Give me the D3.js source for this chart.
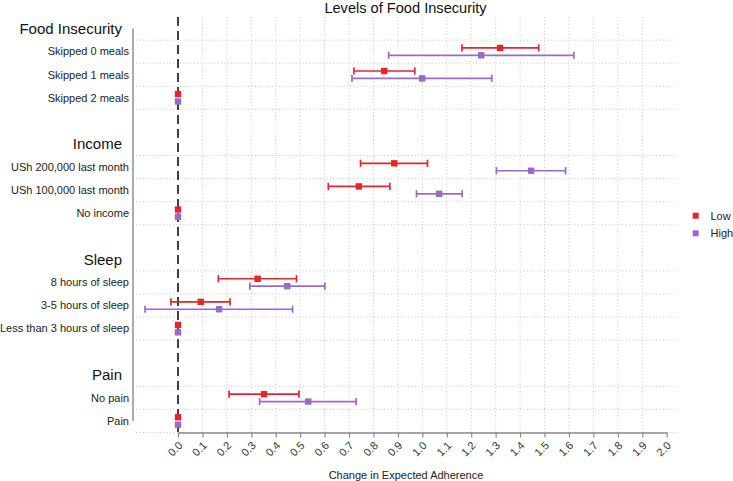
<!DOCTYPE html>
<html><head><meta charset="utf-8">
<script src="https://cdn.jsdelivr.net/npm/d3@7"></script>
<style>
html,body{margin:0;padding:0;background:#fff;}
text{font-family:"Liberation Sans",Arial,sans-serif;}
</style></head>
<body>
<svg id="chart" width="733" height="481"></svg>
<script>
// ---- data ----
const groups = ["Food Insecurity","Income","Sleep","Pain"];
const categories = [
  ["Skipped 0 meals","Skipped 1 meals","Skipped 2 meals"],
  ["USh 200,000 last month","USh 100,000 last month","No income"],
  ["8 hours of sleep","3-5 hours of sleep","Less than 3 hours of sleep"],
  ["No pain","Pain"]
];
const series = ["Low","High"];
const lowEst   = [1.318,0.844,0, 0.885,0.740,0, 0.326,0.093,0, 0.352,0];
const lowLower = [1.162,0.720,null, 0.747,0.615,null, 0.165,-0.029,null, 0.209,null];
const lowUpper = [1.476,0.969,null, 1.021,0.867,null, 0.485,0.213,null, 0.495,null];
const highEst   = [1.241,0.999,0, 1.445,1.069,0, 0.447,0.168,0, 0.533,0];
const highLower = [0.862,0.712,null, 1.303,0.976,null, 0.294,-0.135,null, 0.334,null];
const highUpper = [1.620,1.284,null, 1.586,1.163,null, 0.601,0.469,null, 0.729,null];
const xTicks = [0.0,0.1,0.2,0.3,0.4,0.5,0.6,0.7,0.8,0.9,1.0,1.1,1.2,1.3,1.4,1.5,1.6,1.7,1.8,1.9,2.0];
const colors = {Low:"#e3262b", High:"#9a6acb"};

// ---- build rows ----
const rows = [];
let k = 0;
groups.forEach((g,gi)=>{
  rows.push({id:"h"+gi, type:"header", label:g});
  categories[gi].forEach(c=>{
    rows.push({id:"c"+k, type:"item", label:c, idx:k});
    k++;
  });
  if (gi < groups.length-1) rows.push({id:"b"+gi, type:"blank", label:""});
});

const svg = d3.select("#chart");
const x = d3.scaleLinear().domain([0,2]).range([178,666.7]);
const y = d3.scaleBand().domain(rows.map(r=>r.id)).range([17,432.5]).padding(0);
const panelL = 133, panelR = 677;
const plotTop = 17, plotBot = 432.5;

// vertical gridlines
svg.append("g").selectAll("line").data(xTicks.filter(t=>t>0 && t<2))
  .join("line")
  .attr("x1",d=>x(d)).attr("x2",d=>x(d))
  .attr("y1",plotTop).attr("y2",plotBot)
  .attr("stroke","#c4c4c4").attr("stroke-width",1).attr("stroke-dasharray","1,2.4");

// horizontal gridlines: boundaries of item rows
const hLines = [];
rows.forEach(r=>{
  if (r.type==="item"){ hLines.push(y(r.id)); hLines.push(y(r.id)+y.bandwidth()); }
});
const uniqH = Array.from(new Set(hLines.map(v=>Math.round(v*10)/10)));
svg.append("g").selectAll("line").data(uniqH)
  .join("line")
  .attr("x1",panelL+3).attr("x2",panelR)
  .attr("y1",d=>d).attr("y2",d=>d)
  .attr("stroke","#c4c4c4").attr("stroke-width",1).attr("stroke-dasharray","1,2.4");

// zero reference line
svg.append("line")
  .attr("x1",x(0)).attr("x2",x(0)).attr("y1",plotTop).attr("y2",plotBot)
  .attr("stroke","#111").attr("stroke-width",1.6).attr("stroke-dasharray","9,5");

// y axis line
const firstC = y(rows[0].id)+y.bandwidth()/2;
const lastC = y(rows[rows.length-1].id)+y.bandwidth()/2;
svg.append("line").attr("x1",panelL).attr("x2",panelL).attr("y1",firstC).attr("y2",lastC)
  .attr("stroke","#8a8a8a").attr("stroke-width",1.4);

// y labels
rows.forEach(r=>{
  if (r.type==="blank") return;
  const cy = y(r.id)+y.bandwidth()/2;
  if (r.type==="header"){
    svg.append("text").attr("x",122).attr("y",cy).attr("dy","0.36em")
      .attr("text-anchor","end").attr("font-size",15).attr("fill","#111").text(r.label);
  } else {
    svg.append("text").attr("x",129).attr("y",cy).attr("dy","0.35em")
      .attr("text-anchor","end").attr("font-size",11).attr("fill","#222").text(r.label);
  }
});

// x axis
const xAxis = d3.axisBottom(x).tickValues(xTicks).tickFormat(d3.format(".1f")).tickSize(5).tickSizeOuter(0);
const gx = svg.append("g").attr("transform",`translate(0,${plotBot})`).call(xAxis);
gx.select(".domain").attr("stroke","#8a8a8a").attr("stroke-width",1.4);
gx.selectAll(".tick line").attr("stroke","#8a8a8a").attr("stroke-width",1.2);
gx.selectAll(".tick text")
  .attr("font-size",11).attr("fill","#333")
  .attr("font-family","Liberation Sans, Arial, sans-serif")
  .attr("text-anchor","end")
  .attr("x",0).attr("y",0).attr("dy","0.35em")
  .attr("transform","translate(2,11) rotate(-45)");

// data marks
const offs = {Low:-3.7, High:3.7};
const ests = {Low:lowEst, High:highEst};
const lows = {Low:lowLower, High:highLower};
const highs = {Low:lowUpper, High:highUpper};
const items = rows.filter(r=>r.type==="item");
series.forEach(s=>{
  const g = svg.append("g");
  const cap = 3.6;
  const withCI = items.filter(r=>lows[s][r.idx]!==null);
  const cy = r=>y(r.id)+y.bandwidth()/2+offs[s];
  g.selectAll("line.bar").data(withCI).join("line")
    .attr("x1",r=>x(lows[s][r.idx])).attr("x2",r=>x(highs[s][r.idx]))
    .attr("y1",cy).attr("y2",cy)
    .attr("stroke",colors[s]).attr("stroke-width",1.7);
  g.selectAll("line.capL").data(withCI).join("line")
    .attr("x1",r=>x(lows[s][r.idx])).attr("x2",r=>x(lows[s][r.idx]))
    .attr("y1",r=>cy(r)-cap).attr("y2",r=>cy(r)+cap)
    .attr("stroke",colors[s]).attr("stroke-width",1.7);
  g.selectAll("line.capR").data(withCI).join("line")
    .attr("x1",r=>x(highs[s][r.idx])).attr("x2",r=>x(highs[s][r.idx]))
    .attr("y1",r=>cy(r)-cap).attr("y2",r=>cy(r)+cap)
    .attr("stroke",colors[s]).attr("stroke-width",1.7);
  g.selectAll("rect").data(items).join("rect")
    .attr("x",r=>x(ests[s][r.idx])-3.2).attr("y",r=>cy(r)-3.2)
    .attr("width",6.4).attr("height",6.4).attr("fill",colors[s]);
});

// title
svg.append("text").attr("x",405.5).attr("y",13).attr("text-anchor","middle")
  .attr("font-size",14.6).attr("fill","#111").text("Levels of Food Insecurity");
// x axis title
svg.append("text").attr("x",406).attr("y",479).attr("text-anchor","middle")
  .attr("font-size",11).attr("fill","#222").text("Change in Expected Adherence");

// legend
const lg = svg.append("g");
series.forEach((s,i)=>{
  const ly = 215.7 + i*17.6;
  lg.append("rect").attr("x",692.7).attr("y",ly-3).attr("width",6).attr("height",6).attr("fill",colors[s]);
  lg.append("text").attr("x",710.5).attr("y",ly).attr("dy","0.36em")
    .attr("font-size",11).attr("fill","#222").text(s);
});
</script>
</body></html>
